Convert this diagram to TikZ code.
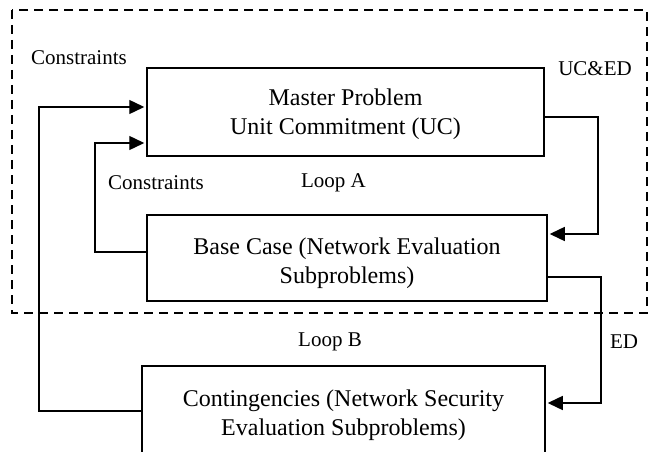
\documentclass[tikz,border=0pt]{standalone}
\usepackage{fontspec}
\setmainfont{Liberation Serif}
\usetikzlibrary{arrows.meta}
\begin{document}
\begin{tikzpicture}[x=1pt,y=-1pt,
  boxnode/.style={draw,line width=1.5pt,inner sep=0pt},
  boxtext/.style={align=center,inner sep=0pt,font=\fontsize{24}{29}\selectfont},
  lbl/.style={inner sep=0pt,font=\fontsize{21}{25}\selectfont},
  conn/.style={line width=1.4pt},
  arr/.style={conn,-{Triangle[length=15pt,width=14pt]},shorten >=2pt},
  dashbox/.style={line width=1.3pt,dash pattern=on 9pt off 6pt}]
\useasboundingbox (0,0) rectangle (657,452);
\clip (0,0) rectangle (657,452);
\draw[dashbox] (12,10) rectangle (647,313);
\node[boxnode,minimum width=397pt,minimum height=88pt] (master) at (345.5,112) {};
\node[boxtext] (mastertxt) at ([yshift=-2pt]master.center)
  {Master Problem\\Unit Commitment (UC)};
\node[boxnode,minimum width=400pt,minimum height=86pt] (base) at (347,258) {};
\node[boxtext] (basetxt) at ([yshift=-5pt]base.center)
  {Base Case (Network Evaluation\\Subproblems)};
\node[boxnode,minimum width=403pt,minimum height=98pt] (cont) at (343.5,415) {};
\node[boxtext] (conttxt) at (cont.center)
  {Contingencies (Network Security\\Evaluation Subproblems)};
\node[lbl] (c1) at (79,58) {Constraints};
\node[lbl] (c2) at (156,183) {Constraints};
\node[lbl] (la) at (333.5,183) {Loop A};
\node[lbl] (uced) at (595,69) {UC\&ED};
\node[lbl] (lb) at (330,342) {Loop B};
\node[lbl] (ed) at (624,342) {ED};
\draw[arr] (cont.west |- 0,411) -- (39,411) -- (39,107) -- (master.west |- 0,107);
\draw[arr] (base.west |- 0,252) -- (95,252) -- (95,143) -- (master.west |- 0,143);
\draw[arr] (master.east |- 0,117) -- (598,117) -- (598,234) -- (base.east |- 0,234);
\draw[arr] (base.east |- 0,277) -- (601,277) -- (601,403) -- (cont.east |- 0,403);
\end{tikzpicture}
\end{document}
